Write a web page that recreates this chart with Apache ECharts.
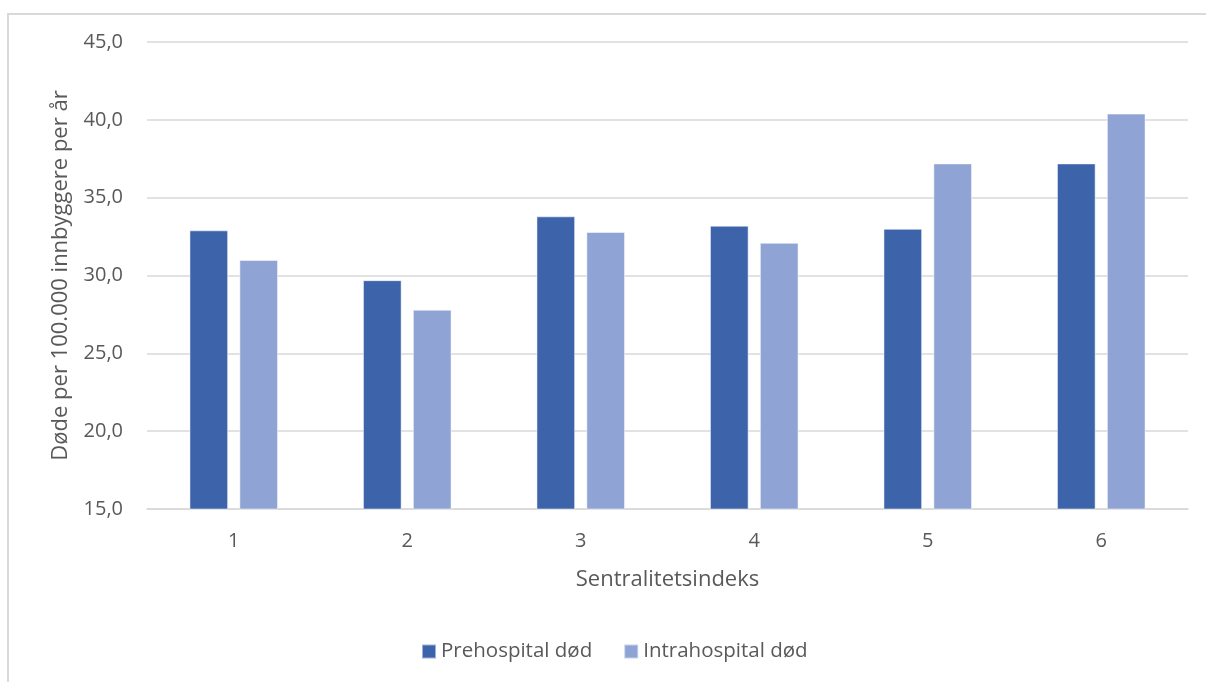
<!DOCTYPE html>
<html>
<head>
<meta charset="utf-8">
<script src="https://cdn.jsdelivr.net/npm/echarts@6/dist/echarts.min.js"></script>
<style>
  html, body { margin: 0; padding: 0; background: #ffffff; }
  #chart { width: 1206px; height: 682px; }
</style>
</head>
<body>
<div id="chart"></div>
<script>
// Sentralitetsindeks 1 (most central) to 6 (least central)
const categories = ['1', '2', '3', '4', '5', '6'];
// Deaths per 100 000 inhabitants per year
const prehospital = [32.9, 29.7, 33.8, 33.2, 33.0, 37.2];
const intrahospital = [31.0, 27.8, 32.8, 32.1, 37.2, 40.4];
const seriesNames = ['Prehospital død', 'Intrahospital død'];
const yTicks = { min: 15, max: 45, step: 5 };

const textColor = '#595959';
const gridColor = '#d9d9d9';
const fontFamily = '"Open Sans", "Segoe UI", sans-serif';

const chart = echarts.init(document.getElementById('chart'), null, { renderer: 'canvas' });

chart.setOption({
  backgroundColor: '#ffffff',
  animation: false,
  textStyle: { fontFamily: fontFamily, color: textColor },
  graphic: [{
    type: 'rect',
    shape: { x: 8, y: 14, width: 1400, height: 1000 },
    style: { fill: 'none', stroke: gridColor, lineWidth: 2 },
    silent: true
  }],
  grid: { left: 147, right: 18, top: 42, bottom: 173, containLabel: false },
  legend: {
    left: 416,
    top: 636,
    padding: 5,
    itemWidth: 14,
    itemHeight: 14,
    itemGap: 31,
    icon: 'rect',
    textStyle: { fontSize: 20.5, color: textColor, fontFamily: fontFamily },
    data: seriesNames
  },
  xAxis: {
    type: 'category',
    data: categories,
    name: 'Sentralitetsindeks',
    nameLocation: 'middle',
    nameGap: 60,
    nameTextStyle: { fontSize: 22, color: textColor, fontFamily: fontFamily },
    axisLine: { show: true, lineStyle: { color: gridColor, width: 1.5 } },
    axisTick: { show: false },
    axisLabel: { fontSize: 20, color: textColor, margin: 22, fontFamily: fontFamily }
  },
  yAxis: {
    type: 'value',
    min: yTicks.min,
    max: yTicks.max,
    interval: yTicks.step,
    name: 'Døde per 100.000 innbyggere per år',
    nameLocation: 'middle',
    nameGap: 75,
    nameTextStyle: { fontSize: 22, color: textColor, fontFamily: fontFamily },
    axisLine: { show: false },
    axisTick: { show: false },
    axisLabel: {
      fontSize: 20,
      color: textColor,
      margin: 24,
      fontFamily: fontFamily,
      formatter: v => v.toFixed(1).replace('.', ',')
    },
    splitLine: { lineStyle: { color: gridColor, width: 1.5 } }
  },
  series: [
    {
      name: seriesNames[0],
      type: 'bar',
      data: prehospital,
      barWidth: '22.3%',
      barGap: '29%',
      itemStyle: { color: '#3d64ab', borderColor: 'rgba(255,255,255,0.5)', borderWidth: 1 }
    },
    {
      name: seriesNames[1],
      type: 'bar',
      data: intrahospital,
      barWidth: '22.3%',
      barGap: '29%',
      itemStyle: { color: '#8fa3d4', borderColor: 'rgba(255,255,255,0.5)', borderWidth: 1 }
    }
  ]
});
</script>
</body>
</html>
